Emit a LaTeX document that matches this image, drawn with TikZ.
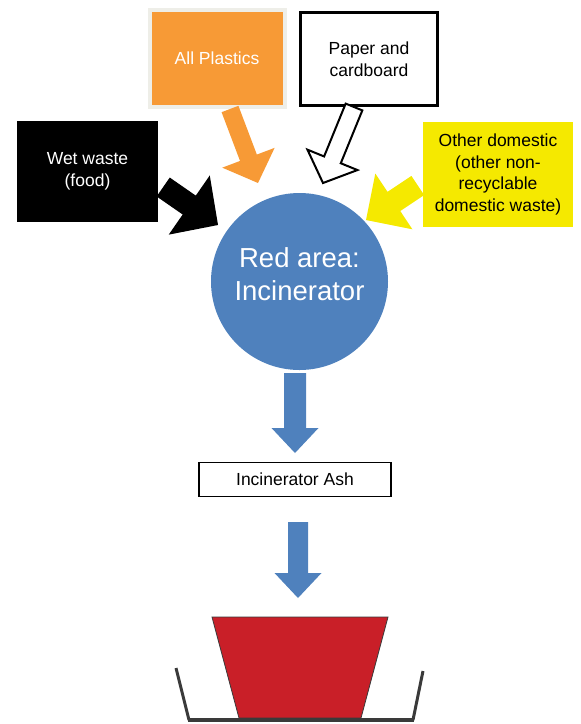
\documentclass[tikz,border=0pt]{standalone}
\usepackage{fontspec}
\setmainfont{Liberation Sans}
\usetikzlibrary{calc}

\definecolor{plasticorange}{HTML}{F79A36}
\definecolor{plasticrim}{HTML}{EEEEE8}
\definecolor{otheryellow}{HTML}{F5E900}
\definecolor{incblue}{HTML}{4F81BD}
\definecolor{binred}{HTML}{C91F28}
\definecolor{traygray}{HTML}{3A3A3A}

% block arrow: style, from, to, half shaft width, half head width, head length
\newcommand{\blockarrow}[6]{%
  \path ($(#3)!#6!(#2)$) coordinate (ba-h);
  \filldraw[#1] ($(#2)!#4!90:(#3)$) -- ($(ba-h)!#4!90:(#3)$)
    -- ($(ba-h)!#5!90:(#3)$) -- (#3) -- ($(ba-h)!#5!-90:(#3)$)
    -- ($(ba-h)!#4!-90:(#3)$) -- ($(#2)!#4!-90:(#3)$) -- cycle;
}

\tikzset{
  wastebox/.style={rectangle, inner sep=0pt, align=center,
    font=\fontsize{17.5}{21.5}\selectfont},
  bluearrow/.style={fill=incblue, draw=none}
}

\begin{document}
\begin{tikzpicture}[x=1pt, y=-1pt]
  \useasboundingbox (0,0) rectangle (581,724);

  % Waste streams
  \node[wastebox, fill=plasticorange, draw=plasticrim, line width=4pt, text=white,
        minimum width=135pt, minimum height=97pt] (plastic) at (217,58.5) {All Plastics};
  \node[wastebox, fill=white, draw=black, line width=3pt,
        minimum width=137pt, minimum height=93pt] (paper) at (369,59) {Paper and\\cardboard};
  \node[wastebox, fill=black, text=white,
        minimum width=141pt, minimum height=101pt] (wet) at (87.5,171.5) {Wet waste\\(food)};
  \node[wastebox, fill=otheryellow,
        minimum width=150pt, minimum height=105pt] (other) at (498,174.5)
        {Other domestic\\(other non-\\recyclable\\domestic waste)};

  % Incinerator
  \node[circle, fill=incblue, inner sep=0pt, minimum size=177pt] (incin) at (299.5,281.5) {};
  \node[text=white, align=center, inner sep=0pt, font=\fontsize{27.5}{33}\selectfont]
        (incin-text) at (299.5,274) {Red area:\\Incinerator};

  % Arrow ends (shifts are in canvas units, so down is negative)
  \coordinate (plastic-out) at ([xshift=13pt]plastic.south);
  \coordinate (plastic-in)  at (258,183);
  \coordinate (paper-out)   at ([xshift=-15pt]paper.south);
  \coordinate (paper-in)    at (323,183);
  \coordinate (wet-out)     at ([xshift=5pt, yshift=-15.5pt]wet.east);
  \coordinate (wet-in)      at (218,225);
  \coordinate (other-out)   at ([xshift=-5pt, yshift=-11pt]other.west);
  \coordinate (other-in)    at (366,220);

  \blockarrow{fill=plasticorange, draw=none}{plastic-out}{plastic-in}{9pt}{28pt}{27pt}
  \blockarrow{fill=white, draw=black, line width=2pt, line join=miter}{paper-out}{paper-in}{9pt}{27pt}{25pt}
  \blockarrow{fill=black, draw=none}{wet-out}{wet-in}{11.5pt}{36pt}{35pt}
  \blockarrow{fill=otheryellow, draw=none}{other-out}{other-in}{11.5pt}{33.5pt}{33.5pt}

  % Ash
  \node[wastebox, fill=white, draw=black, line width=1.5pt,
        minimum width=192pt, minimum height=34pt] (ash) at (295,479.5) {Incinerator Ash};

  \coordinate (incin-out) at (295,373);
  \coordinate (ash-top)   at (295,453);
  \coordinate (ash-out)   at (298,522);
  \coordinate (bin-top)   at (298,598);

  \blockarrow{bluearrow}{incin-out}{ash-top}{11pt}{23.5pt}{25pt}
  \blockarrow{bluearrow}{ash-out}{bin-top}{10pt}{23.5pt}{25pt}

  % Bin on its tray
  \fill[binred, draw=traygray, line width=0.8pt] (212,617) -- (388,617) -- (361,718) -- (239,718) -- cycle;
  \draw[traygray, line width=3pt] (176,668) -- (189,720);
  \draw[traygray, line width=3pt] (423,671) -- (413,720);
  \draw[traygray, line width=4.5pt] (188,720) -- (414,720);

\end{tikzpicture}
\end{document}
